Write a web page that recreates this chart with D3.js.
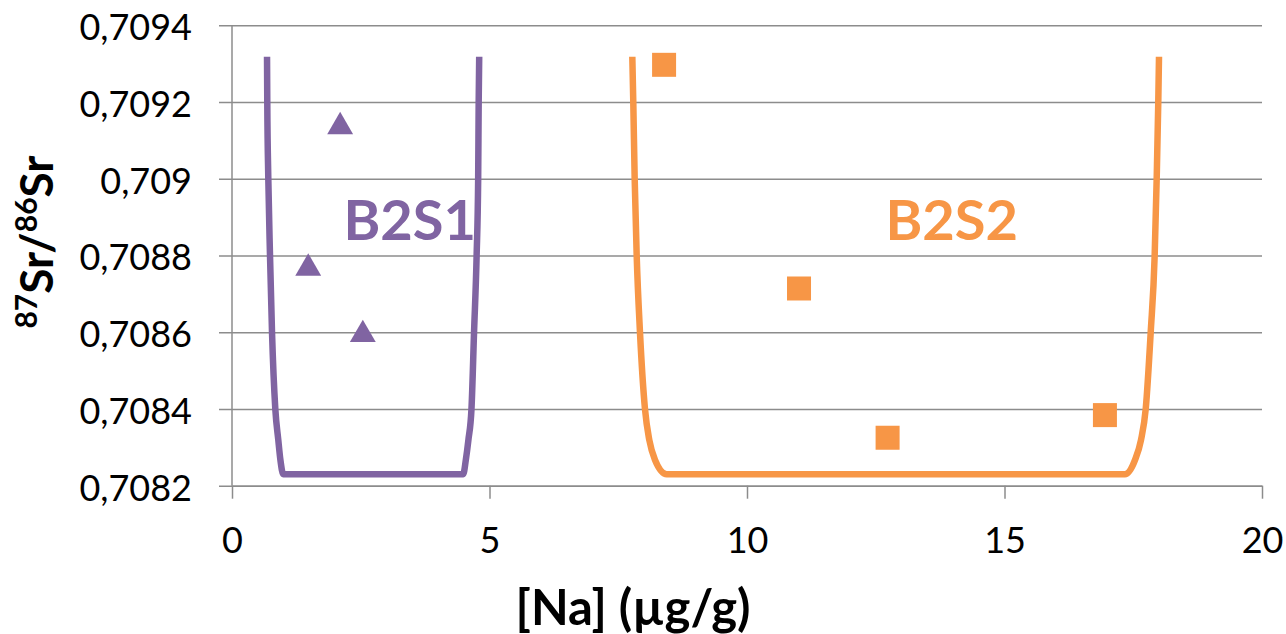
<!DOCTYPE html>
<html>
<head>
<meta charset="utf-8">
<script src="https://cdn.jsdelivr.net/npm/d3@7"></script>
<style>
  body { margin: 0; background: #fff; }
  text { font-family: Lato, "Open Sans", sans-serif; }
</style>
</head>
<body>
<svg id="chart"></svg>
<script>
// axis ticks
const xTicks = [0, 5, 10, 15, 20];
const yTicks = [0.7082, 0.7084, 0.7086, 0.7088, 0.709, 0.7092, 0.7094];

// measured points
const b2s1X = [2.10, 1.48, 2.54];
const b2s1Y = [0.709141, 0.708772, 0.708599];
const b2s2X = [8.39, 11.01, 12.73, 16.95];
const b2s2Y = [0.709297, 0.708714, 0.708325, 0.708384];

// envelope curves
const envY = [0.709318, 0.7092, 0.7090, 0.7088, 0.7086, 0.7084, 0.708319, 0.708267, 0.70823,
              0.70823, 0.708267, 0.708319, 0.7084, 0.7086, 0.7088, 0.7090, 0.7092, 0.709318];
const envB2S1X = [0.68, 0.685, 0.705, 0.738, 0.777, 0.841, 0.899, 0.94, 0.996,
                  4.49, 4.54, 4.59, 4.65, 4.70, 4.75, 4.78, 4.79, 4.80];
const envB2S2X = [7.773, 7.792, 7.819, 7.858, 7.922, 8.019, 8.103, 8.214, 8.44,
                  17.34, 17.534, 17.65, 17.742, 17.839, 17.916, 17.955, 17.986, 18.0];

const groupNames = ["B2S1", "B2S2"];
const groupLabelX = [3.45, 13.975];
const groupLabelY = [0.70884, 0.70884];

const purple = "#8064A2";
const orange = "#F79646";
const gridColor = "#8c8c8c";

const width = 1286, height = 634;
const margin = {top: 25.3, right: 24, bottom: 148.3, left: 232};
const w = width - margin.left - margin.right;
const h = height - margin.top - margin.bottom;

const svg = d3.select("#chart").attr("width", width).attr("height", height);
const g = svg.append("g").attr("transform", `translate(${margin.left},${margin.top})`);

const x = d3.scaleLinear().domain([0, 20]).range([0, w]);
const y = d3.scaleLinear().domain([0.7082, 0.7094]).range([h, 0]);

const fmtY = d => d3.format(".4f")(d).replace(/0$/, "").replace(".", ",");

// gridlines + y axis
const yAxis = g.append("g")
  .call(d3.axisLeft(y).tickValues(yTicks).tickSize(-w).tickSizeOuter(0).tickFormat(fmtY).tickPadding(40));
yAxis.select(".domain").remove();
yAxis.selectAll(".tick line").attr("stroke", gridColor).attr("stroke-width", 1.5).attr("x1", -13);
yAxis.selectAll(".tick text").attr("font-size", 36).attr("fill", "#000").attr("dy", "0.4em");

// x axis
const xAxis = g.append("g").attr("transform", `translate(0,${h})`)
  .call(d3.axisBottom(x).tickValues(xTicks).tickSize(13).tickSizeOuter(0).tickPadding(29));
xAxis.select(".domain").attr("stroke", gridColor).attr("stroke-width", 1.5);
xAxis.selectAll(".tick line").attr("stroke", gridColor).attr("stroke-width", 1.5);
xAxis.selectAll(".tick text").attr("font-size", 36).attr("fill", "#000");

g.append("line").attr("x1", 0).attr("x2", 0).attr("y1", 0).attr("y2", h)
  .attr("stroke", gridColor).attr("stroke-width", 1.5);

// envelopes
const line = d3.line().x(d => x(d[0])).y(d => y(d[1])).curve(d3.curveMonotoneX);
g.append("path").datum(d3.zip(envB2S1X, envY)).attr("d", line)
  .attr("fill", "none").attr("stroke", purple).attr("stroke-width", 6.5);
g.append("path").datum(d3.zip(envB2S2X, envY)).attr("d", line)
  .attr("fill", "none").attr("stroke", orange).attr("stroke-width", 6.5);

// markers
const tri = d3.symbol().type(d3.symbolTriangle).size(290);
g.selectAll(".tri").data(d3.zip(b2s1X, b2s1Y)).enter().append("path")
  .attr("class", "tri")
  .attr("transform", d => `translate(${x(d[0])},${y(d[1]) + 2})`)
  .attr("d", tri).attr("fill", purple);

const sq = 24;
g.selectAll(".sq").data(d3.zip(b2s2X, b2s2Y)).enter().append("rect")
  .attr("class", "sq")
  .attr("x", d => x(d[0]) - sq / 2).attr("y", d => y(d[1]) - sq / 2)
  .attr("width", sq).attr("height", sq).attr("fill", orange);

// group labels
g.selectAll(".glabel").data(groupNames).enter().append("text")
  .attr("x", (d, i) => x(groupLabelX[i])).attr("y", (d, i) => y(groupLabelY[i]))
  .attr("text-anchor", "middle").attr("font-size", 56).attr("font-weight", "bold")
  .attr("fill", (d, i) => i === 0 ? purple : orange)
  .text(d => d);

// axis titles
svg.append("text").attr("x", 633).attr("y", 625)
  .attr("text-anchor", "middle").attr("font-size", 49).attr("font-weight", "bold")
  .text("[Na] (µg/g)");

const yt = svg.append("text").attr("transform", "translate(53,242) rotate(-90)")
  .attr("text-anchor", "middle").attr("font-size", 46).attr("font-weight", "bold");
yt.append("tspan").attr("font-size", 30).attr("dy", -16).text("87");
yt.append("tspan").attr("dy", 16).text("Sr/");
yt.append("tspan").attr("font-size", 30).attr("dy", -16).text("86");
yt.append("tspan").attr("dy", 16).text("Sr");
</script>
</body>
</html>
